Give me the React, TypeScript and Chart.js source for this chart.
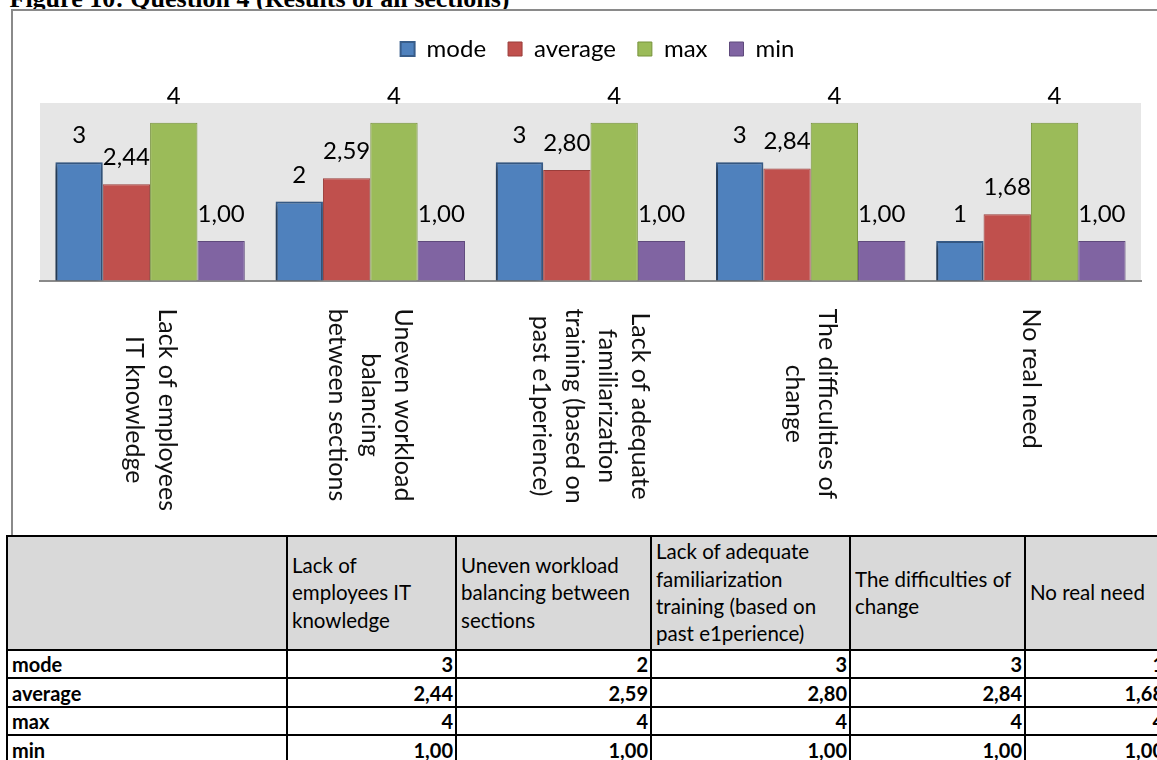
import React, { useEffect, useRef } from "react";
import { Chart, registerables } from "chart.js";

Chart.register(...registerables);

// ---------------- data ----------------
const figureTitle = "Figure 10: Question 4 (Results of all sections)";

const categoryLines: string[][] = [
  ["Lack of employees", "IT knowledge"],
  ["Uneven workload", "balancing", "between sections"],
  ["Lack of adequate", "familiarization", "training (based on", "past e1perience)"],
  ["The difficulties of", "change"],
  ["No real need"],
];

const tableHeaderLines: string[][] = [
  ["Lack of", "employees IT", "knowledge"],
  ["Uneven workload", "balancing between", "sections"],
  ["Lack of adequate", "familiarization", "training (based on", "past e1perience)"],
  ["The difficulties of", "change"],
  ["No real need"],
];

const seriesNames = ["mode", "average", "max", "min"];
const modeValues = [3, 2, 3, 3, 1];
const averageValues = [2.44, 2.59, 2.8, 2.84, 1.68];
const maxValues = [4, 4, 4, 4, 4];
const minValues = [1.0, 1.0, 1.0, 1.0, 1.0];
const seriesDecimals = [0, 2, 0, 2];
const yAxisMin = 0;
const yAxisMax = 4.5;

// ---------------- styles ----------------
const seriesValues = [modeValues, averageValues, maxValues, minValues];
const FILL = ["#4F81BD", "#C0504D", "#9BBB59", "#8064A2"];
const EDGE = ["#385D8A", "#9A3D3A", "#77933C", "#5F4A7C"];
const FONT = "Lato, 'Open Sans', sans-serif";
const LEGEND_EXTRA = 32;
const LEGEND_SHIFT = 7;

const fmt = (v: number, d: number) => v.toFixed(d).replace(".", ",");

const plotBackground = {
  id: "plotBackground",
  beforeDraw(chart: any) {
    const { ctx, chartArea: a } = chart;
    ctx.save();
    ctx.fillStyle = "#E6E6E6";
    ctx.fillRect(a.left, a.top, a.right - a.left, a.bottom - a.top);
    ctx.restore();
  },
};

const legendGap = {
  id: "legendGap",
  beforeLayout(chart: any) {
    const lg = chart.legend;
    if (lg && !lg.__gap) {
      const orig = lg.fit;
      lg.fit = function () {
        orig.call(this);
        this.height += LEGEND_EXTRA;
      };
      lg.__gap = true;
    }
  },
  afterLayout(chart: any) {
    const lg = chart.legend;
    if (lg) {
      lg.left += LEGEND_SHIFT;
      lg.right += LEGEND_SHIFT;
    }
  },
};

const barShadow = {
  id: "barShadow",
  beforeDatasetDraw(chart: any, args: any) {
    if (args.index !== 0) return;
    const ctx = chart.ctx;
    ctx.save();
    ctx.shadowColor = "rgba(0,0,0,0.55)";
    ctx.shadowBlur = 6;
    ctx.shadowOffsetX = -2;
    ctx.shadowOffsetY = 3;
  },
  afterDatasetDraw(chart: any, args: any) {
    if (args.index !== 0) return;
    chart.ctx.restore();
  },
};

const valueLabels = {
  id: "valueLabels",
  afterDatasetsDraw(chart: any) {
    const ctx = chart.ctx;
    ctx.save();
    ctx.font = `24px ${FONT}`;
    ctx.fillStyle = "#000";
    ctx.textAlign = "center";
    ctx.textBaseline = "alphabetic";
    chart.data.datasets.forEach((ds: any, i: number) => {
      const meta = chart.getDatasetMeta(i);
      meta.data.forEach((el: any, j: number) => {
        ctx.fillText(fmt(ds.data[j], seriesDecimals[i]), el.x, el.y - 19);
      });
    });
    ctx.restore();
  },
};

const rotatedCategoryLabels = {
  id: "rotatedCategoryLabels",
  afterDraw(chart: any) {
    const ctx = chart.ctx;
    const xs = chart.scales.x;
    const top = chart.chartArea.bottom + 28;
    const lineH = 33;
    ctx.save();
    ctx.font = `25px ${FONT}`;
    ctx.fillStyle = "#111";
    ctx.textAlign = "center";
    ctx.textBaseline = "middle";
    (chart.data.labels as string[][]).forEach((lines, i) => {
      const x = xs.getPixelForTick(i);
      const maxW = Math.max(...lines.map((l) => ctx.measureText(l).width));
      ctx.save();
      ctx.translate(x, top);
      ctx.rotate(Math.PI / 2);
      lines.forEach((line, k) => {
        const off = (k - (lines.length - 1) / 2) * lineH;
        ctx.fillText(line, maxW / 2, off);
      });
      ctx.restore();
    });
    ctx.restore();
  },
};

// table geometry
const colLines = [6, 286, 455, 650, 849, 1024, 1166];
const rowLines = [535, 649, 677, 706, 734, 763];

export default function App() {
  const ref = useRef<HTMLCanvasElement | null>(null);

  useEffect(() => {
    if (!ref.current) return;
    const chart = new Chart(ref.current, {
      type: "bar",
      data: {
        labels: categoryLines as any,
        datasets: seriesNames.map((name, i) => ({
          label: name,
          data: seriesValues[i],
          backgroundColor: FILL[i],
          borderColor: EDGE[i],
          borderWidth: i === 0 ? 2 : 1,
          clip: false as any,
        })),
      },
      options: {
        responsive: false,
        animation: false,
        events: [],
        layout: { padding: { left: 27, right: 24, top: 4, bottom: 254.5 } },
        datasets: { bar: { categoryPercentage: 0.86, barPercentage: 1 } } as any,
        scales: {
          x: {
            grid: { display: false, drawTicks: false },
            border: { display: true, color: "#8a8a8a", width: 2 },
            ticks: { display: false },
          },
          y: { display: false, min: yAxisMin, max: yAxisMax },
        },
        plugins: {
          legend: {
            position: "top",
            labels: {
              font: { family: FONT, size: 24 },
              color: "#000",
              boxWidth: 14,
              boxHeight: 14,
              padding: 22,
            },
          },
          tooltip: { enabled: false },
        },
      },
      plugins: [plotBackground, legendGap, barShadow, valueLabels, rotatedCategoryLabels],
    });
    return () => chart.destroy();
  }, []);

  const cells: React.ReactNode[] = [];
  for (let r = 0; r < rowLines.length - 1; r++) {
    for (let c = 0; c < colLines.length - 1; c++) {
      const base: React.CSSProperties = {
        position: "absolute",
        left: colLines[c],
        top: rowLines[r],
        width: colLines[c + 1] - colLines[c] + 2,
        height: rowLines[r + 1] - rowLines[r] + 2,
        boxSizing: "border-box",
        border: "2px solid #000",
        overflow: "hidden",
        whiteSpace: "nowrap",
        color: "#000",
        display: "flex",
      };
      let content: React.ReactNode = null;
      if (r === 0) {
        Object.assign(base, {
          background: "#D9D9D9",
          flexDirection: "column",
          justifyContent: "center",
          padding: "0 2px 0 4px",
          font: `20.5px ${FONT}`,
          lineHeight: "27.3px",
        });
        if (c > 0) content = tableHeaderLines[c - 1].map((l, k) => <div key={k}>{l}</div>);
      } else {
        Object.assign(base, {
          background: "#fff",
          alignItems: "flex-end",
          justifyContent: c === 0 ? "flex-start" : "flex-end",
          padding: c === 0 ? "0 2px 1px 4px" : "0 2px 1px 2px",
          font: `bold 20px ${FONT}`,
          lineHeight: "24px",
        });
        content = c === 0 ? seriesNames[r - 1] : fmt(seriesValues[r - 1][c - 1], seriesDecimals[r - 1]);
      }
      cells.push(
        <div key={`${r}-${c}`} style={base}>
          {content}
        </div>
      );
    }
  }

  return (
    <div
      style={{
        position: "absolute",
        left: 0,
        top: 0,
        width: 1157,
        height: 760,
        overflow: "hidden",
        background: "#fff",
      }}
    >
      <div
        style={{
          position: "absolute",
          left: 9.5,
          top: -16.5,
          font: "bold 26px 'Liberation Serif', 'Times New Roman', serif",
          lineHeight: "30px",
          whiteSpace: "nowrap",
          color: "#000",
        }}
      >
        {figureTitle}
      </div>
      <div
        style={{
          position: "absolute",
          left: 11,
          top: 9,
          width: 1300,
          height: 560,
          border: "2px solid #8a8a8a",
          boxSizing: "border-box",
          background: "#fff",
        }}
      />
      <canvas
        ref={ref}
        width={1152}
        height={524}
        style={{ position: "absolute", left: 13, top: 11, width: 1152, height: 524 }}
      />
      {cells}
    </div>
  );
}
